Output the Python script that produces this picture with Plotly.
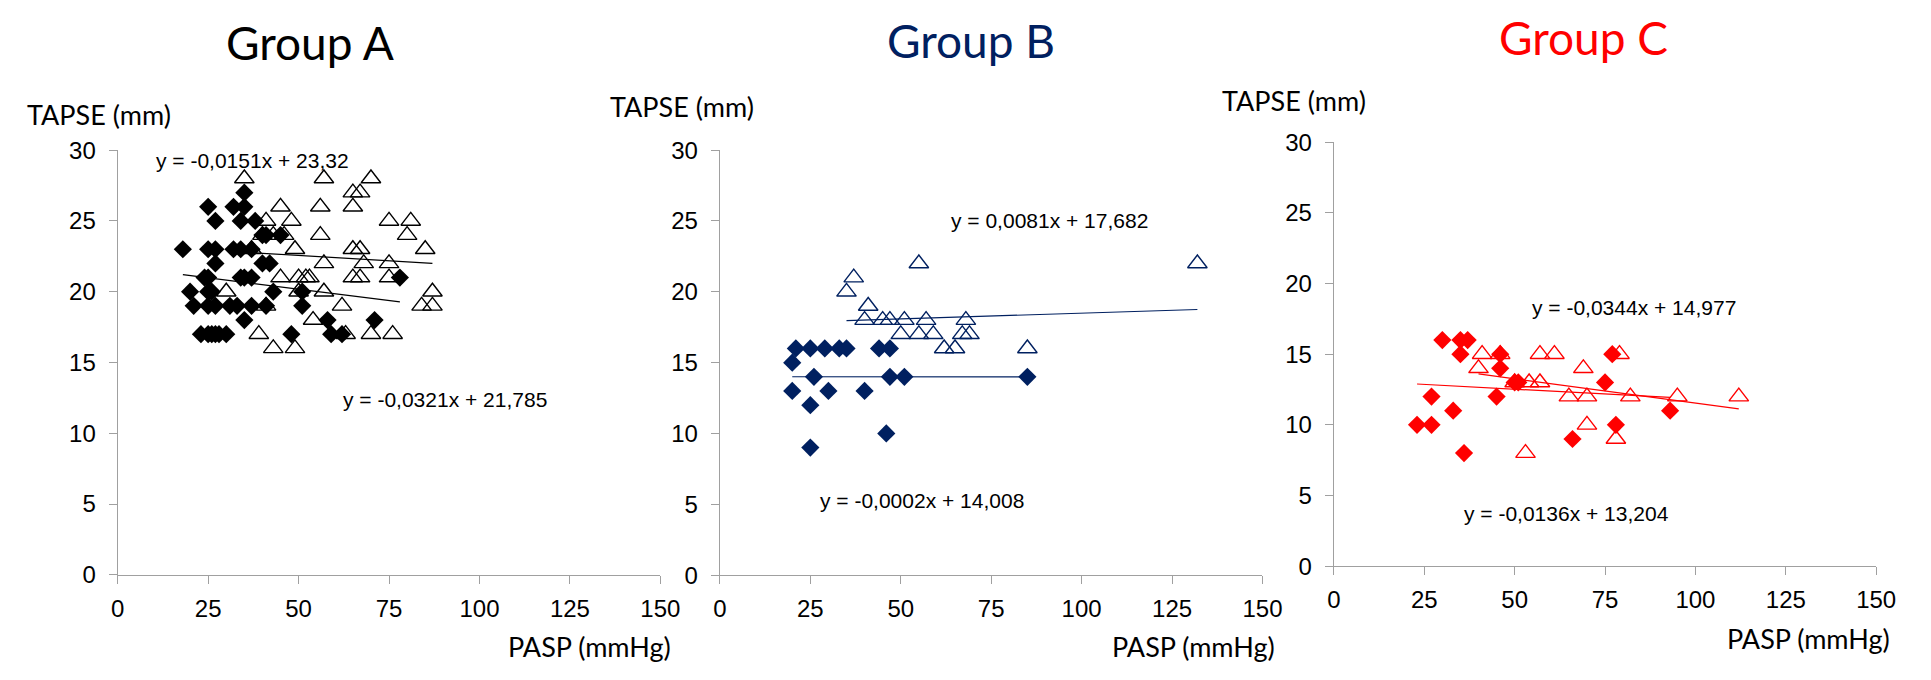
import plotly.graph_objects as go

# ---------------- data (PASP mmHg, TAPSE mm) ----------------
# Group A
a_dia_x = [18, 25, 27, 32, 35, 35, 34, 38, 25, 27, 32, 34, 37, 40, 41, 45, 27, 40, 42,
           24, 25, 34, 35, 37, 20, 25, 26, 43, 51, 21, 25, 27, 31, 33, 37, 41, 51,
           35, 58, 71, 23, 25, 26, 27, 28, 30, 48, 59, 62, 78]
a_dia_y = [23, 26, 25, 26, 27, 26, 25, 25, 23, 23, 23, 23, 23, 24, 24, 24, 22, 22, 22,
           21, 21, 21, 21, 21, 20, 20, 20, 20, 20, 19, 19, 19, 19, 19, 19, 19, 19,
           18, 18, 18, 17, 17, 17, 17, 17, 17, 17, 17, 17, 21]
a_tri_x = [35, 57, 70, 65, 67, 45, 56, 65, 41, 48, 75, 81, 40, 43, 46, 56, 80,
           37, 49, 65, 67, 85, 57, 68, 75, 45, 50, 52, 53, 65, 67, 75,
           30, 50, 57, 87, 41, 62, 84, 87, 54, 39, 63, 70, 76, 43, 49]
a_tri_y = [28, 28, 28, 27, 27, 26, 26, 26, 25, 25, 25, 25, 24, 24, 24, 24, 24,
           23, 23, 23, 23, 23, 22, 22, 22, 21, 21, 21, 21, 21, 21, 21,
           20, 20, 20, 20, 19, 19, 19, 19, 18, 17, 17, 17, 17, 16, 16]

# Group B
b_dia_x = [20, 21, 25, 29, 33, 35, 44, 47, 20, 26, 30, 25, 25, 40, 46, 47, 51, 85]
b_dia_y = [15, 16, 16, 16, 16, 16, 16, 16, 13, 14, 13, 12, 9, 13, 10, 14, 14, 14]
b_tri_x = [35, 37, 55, 132, 41, 40, 45, 47, 51, 57, 68, 50, 55, 59, 67, 69, 62, 65, 85]
b_tri_y = [20, 21, 22, 22, 19, 18, 18, 18, 18, 18, 18, 17, 17, 17, 17, 17, 16, 16, 16]

# Group C
c_dia_x = [23, 27, 27, 30, 33, 35, 37, 35, 36, 45, 46, 46, 50, 51, 66, 75, 77, 78, 93]
c_dia_y = [10, 10, 12, 16, 11, 16, 16, 15, 8, 12, 15, 14, 13, 13, 9, 13, 15, 10, 11]
c_tri_x = [41, 40, 46, 57, 61, 79, 69, 50, 54, 57, 65, 70, 82, 95, 112, 70, 78, 53]
c_tri_y = [15, 14, 15, 15, 15, 15, 14, 13, 13, 13, 12, 12, 12, 12, 12, 10, 9, 8]

# trendlines: slope, intercept, x-range
trend_a_dia = [-0.0321, 21.785]
trend_a_tri = [-0.0151, 23.32]
trend_b_dia = [-0.0002, 14.008]
trend_b_tri = [0.0081, 17.682]
trend_c_dia = [-0.0136, 13.204]
trend_c_tri = [-0.0344, 14.977]
range_a_dia = [18, 78]
range_a_tri = [36, 87]
range_b_dia = [20, 85]
range_b_tri = [35, 132]
range_c_dia = [23, 93]
range_c_tri = [40, 112]

eq_a = ["y = -0,0151x + 23,32", "y = -0,0321x + 21,785"]
eq_b = ["y = 0,0081x + 17,682", "y = -0,0002x + 14,008"]
eq_c = ["y = -0,0344x + 14,977", "y = -0,0136x + 13,204"]

titles = ["Group A", "Group B", "Group C"]
colors = ["#000000", "#002060", "#FF0000"]
x_ticks = [0, 25, 50, 75, 100, 125, 150]
y_ticks = [0, 5, 10, 15, 20, 25, 30]

W, H = 1931, 680
TICKFONT = "Liberation Sans, Arial, sans-serif"
LABFONT = "Lato, Open Sans, sans-serif"

fig = go.Figure()

groups = [
    (a_dia_x, a_dia_y, a_tri_x, a_tri_y, trend_a_dia, trend_a_tri, range_a_dia, range_a_tri, "x", "y"),
    (b_dia_x, b_dia_y, b_tri_x, b_tri_y, trend_b_dia, trend_b_tri, range_b_dia, range_b_tri, "x2", "y2"),
    (c_dia_x, c_dia_y, c_tri_x, c_tri_y, trend_c_dia, trend_c_tri, range_c_dia, range_c_tri, "x3", "y3"),
]

for i, (dx, dy, tx, ty, tdia, ttri, rdia, rtri, xa, ya) in enumerate(groups):
    col = colors[i]
    fig.add_trace(go.Scatter(x=tx, y=ty, mode="markers", xaxis=xa, yaxis=ya,
                             marker=dict(symbol="triangle-up-open", size=17, color=col,
                                         line=dict(width=1.4, color=col)),
                             showlegend=False, cliponaxis=False))
    fig.add_trace(go.Scatter(x=dx, y=dy, mode="markers", xaxis=xa, yaxis=ya,
                             marker=dict(symbol="diamond", size=14, color=col,
                                         line=dict(width=0)),
                             showlegend=False, cliponaxis=False))
    for coef, rng in ((tdia, rdia), (ttri, rtri)):
        fig.add_trace(go.Scatter(x=rng, y=[coef[0] * v + coef[1] for v in rng],
                                 mode="lines", xaxis=xa, yaxis=ya,
                                 line=dict(color=col, width=1.2),
                                 showlegend=False, hoverinfo="skip"))

# axis domains (paper fractions)
xdoms = [[112.3 / W, 662.6 / W], [723.0 / W, 1273.3 / W], [1345.7 / W, 1895.7 / W]]
ydoms = [[1 - 584.0 / H, 1 - 141.8 / H], [1 - 584.3 / H, 1 - 141.8 / H], [1 - 575.0 / H, 1 - 133.5 / H]]

axis_common = dict(showgrid=False, zeroline=False, showline=True, linecolor="#A0A0A0",
                   linewidth=1.3, ticks="outside", ticklen=8, tickcolor="#A0A0A0",
                   tickwidth=1.3, tickfont=dict(family=TICKFONT, size=24, color="#000000"))

layout = dict(width=W, height=H, margin=dict(l=0, r=0, t=0, b=0),
              paper_bgcolor="white", plot_bgcolor="white", showlegend=False)
for i in range(3):
    sx = "" if i == 0 else str(i + 1)
    layout["xaxis" + sx] = dict(domain=xdoms[i], range=[0, 150], tickvals=x_ticks,
                                anchor="y" + sx, ticklabelstandoff=4, **axis_common)
    layout["yaxis" + sx] = dict(domain=ydoms[i], range=[0, 30], tickvals=y_ticks,
                                anchor="x" + sx, ticklabelstandoff=8, **axis_common)
fig.update_layout(**layout)

ann = []
# titles
for txt, cx, cy, col in zip(titles, [307.5, 977.7, 1599.0], [30, 28, 24], colors):
    ann.append(dict(text=txt, x=cx / W, y=1 - cy / H, xref="paper", yref="paper",
                    xanchor="center", yanchor="middle", showarrow=False,
                    font=dict(family=LABFONT, size=46, color=col)))
# y-axis titles
for lx, cy in zip([18.7, 609.8, 1230.0], [105, 96, 90]):
    ann.append(dict(text="TAPSE (mm)", x=lx / W, y=1 - cy / H, xref="paper", yref="paper",
                    xanchor="left", yanchor="middle", showarrow=False,
                    font=dict(family=LABFONT, size=27, color="#000000")))
# x-axis titles
for rx, cy in zip([675.0, 1288.0, 1912.0], [659, 659, 650]):
    ann.append(dict(text="PASP (mmHg)", x=rx / W, y=1 - cy / H, xref="paper", yref="paper",
                    xanchor="right", yanchor="middle", showarrow=False,
                    font=dict(family=LABFONT, size=27, color="#000000")))
# equations (placed in data coordinates of each panel)
eq_pos = [
    ("x", "y", eq_a[0], 10.1, 29.3), ("x", "y", eq_a[1], 61.8, 12.35),
    ("x2", "y2", eq_b[0], 63.2, 25.0), ("x2", "y2", eq_b[1], 27.0, 5.3),
    ("x3", "y3", eq_c[0], 54.3, 18.3), ("x3", "y3", eq_c[1], 35.5, 3.7),
]
for xr, yr, txt, ex, ey in eq_pos:
    ann.append(dict(text=txt, x=ex, y=ey, xref=xr, yref=yr, xanchor="left",
                    yanchor="middle", showarrow=False,
                    font=dict(family=TICKFONT, size=21, color="#000000")))
fig.update_layout(annotations=ann)

fig.write_html("out.html")
